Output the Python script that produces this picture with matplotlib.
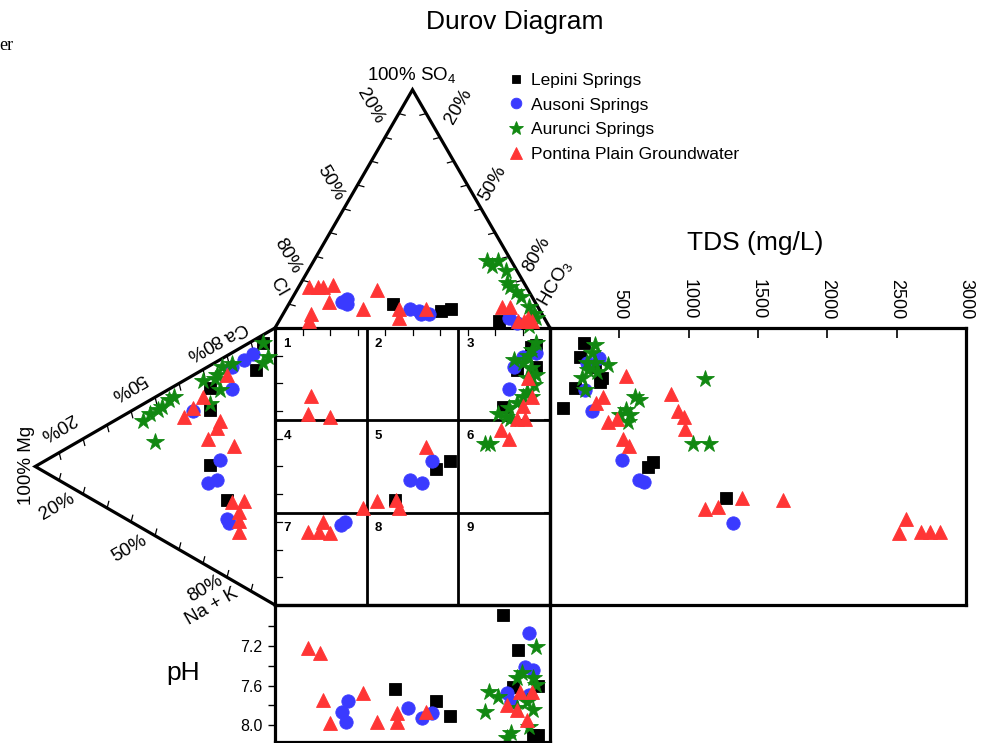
import matplotlib
matplotlib.use("Agg")
import matplotlib.pyplot as plt

plt.rcParams['font.family'] = ['Liberation Sans', 'DejaVu Sans']
plt.rcParams['mathtext.fontset'] = 'custom'
plt.rcParams['mathtext.rm'] = 'Liberation Sans'
plt.rcParams['mathtext.it'] = 'Liberation Sans:italic'
plt.rcParams['mathtext.bf'] = 'Liberation Sans:bold'

# ---------------- data ----------------
series = ["Lepini Springs", "Ausoni Springs", "Aurunci Springs", "Pontina Plain Groundwater"]
colors = ["#000000", "#3a3aff", "#118811", "#ff3535"]
markers = ["s", "o", "*", "^"]
msizes = [8.0, 9.6, 13.0, 10.6]

# anion triangle (SO4 %, HCO3 %; Cl is the rest)
lep_so4 = [10, 7, 8, 3]
lep_hco3 = [38, 57, 60, 80]
aus_so4 = [11, 12, 10, 8, 7, 6, 6, 4, 2]
aus_hco3 = [19, 20, 21, 45, 49, 50, 53, 83, 87]
aur_so4 = [28, 28, 26, 24, 19, 17, 15, 13, 9, 6, 4, 1]
aur_hco3 = [63, 67, 66, 72, 75, 77, 80, 83, 88, 91, 93, 92]
pon_so4 = [17, 17, 17, 18, 11, 6, 3, 8, 16, 8, 4, 8, 9, 9, 3, 3, 4, 3]
pon_hco3 = [4, 7, 9, 12, 14, 10, 11, 28, 29, 41, 43, 51, 78, 81, 87, 89, 90, 92]

# cation triangle (Ca %, Mg %; Na+K is the rest)
lep_ca = [92, 81, 65, 57, 37, 28]
lep_mg = [5, 8, 27, 27, 27, 20]
aus_ca = [86, 82, 77, 69, 53, 41, 30, 33, 20, 21]
aus_mg = [9, 13, 18, 18, 34, 23, 28, 24, 19, 20]
aur_ca = [92, 88, 85, 78, 75, 71, 69, 66, 66, 59, 54, 52, 48, 46, 43, 39, 34]
aur_mg = [5, 3, 5, 18, 22, 24, 25, 30, 23, 27, 42, 44, 47, 49, 52, 55, 50]
pon_ca = [73, 60, 54, 49, 55, 52, 46, 49, 28, 31, 26, 23, 19]
pon_mg = [20, 30, 34, 38, 23, 24, 28, 17, 18, 13, 15, 15, 15]

# central square (anion axis %, cation axis %)
lep_sx = [43.5, 58.5, 63.5, 95, 88, 95, 93, 83]
lep_sy = [38, 49, 52, 94, 85, 86, 93, 71.5]
aus_sx = [57, 49, 53.5, 25.5, 24, 85, 87, 90, 95]
aus_sy = [52, 45, 44, 30, 29, 78, 86, 89.5, 91]
aur_sx = [95, 93.5, 92, 87, 90, 93, 95, 91.5, 94, 91.5, 90, 93, 88, 85, 81, 84, 85.5, 78, 76.5]
aur_sy = [94.5, 92, 90, 88.5, 87.5, 85.5, 83, 82, 79.5, 77, 75, 75, 73, 71, 69, 68, 67, 58, 58]
pon_sx = [13, 12, 20, 32, 37, 44, 45, 55, 17.5, 12, 16, 20, 92, 93.5, 90, 88, 91, 82, 85]
pon_sy = [75.5, 69, 68, 35, 37.5, 38, 35, 57, 30, 26.5, 26.5, 26, 82, 75, 72, 67, 67, 63, 60]

# TDS panel (TDS mg/L, cation axis %)
lep_tds = [245, 215, 180, 95, 360, 375, 710, 745, 1270, 325]
lep_ty = [94.5, 89.5, 78.5, 71, 80.5, 82, 50, 51.5, 38.5, 86]
aus_tds = [350, 255, 305, 520, 640, 680, 1320, 270]
aus_ty = [89, 77.5, 70, 52.5, 45, 44.5, 29.5, 87.5]
aur_tds = [325, 305, 270, 325, 420, 275, 230, 340, 255, 1115, 615, 640, 545, 580, 505, 560, 1030, 1150]
aur_ty = [94, 91, 87.5, 87.5, 86.5, 85, 82, 84, 77.5, 81.5, 75, 74, 70.5, 68.5, 68.5, 66, 58, 58]
pon_tds = [545, 385, 335, 415, 485, 530, 570, 875, 920, 965, 970, 1115, 1210, 1385, 1680, 2565, 2515, 2675, 2740, 2810]
pon_ty = [82.5, 75, 73, 66, 67, 60, 57.5, 76, 70, 68, 63.5, 34.5, 35.5, 38.5, 38, 31, 26, 26.5, 26.5, 26.5]

# pH panel (anion axis %, pH)
lep_px = [83, 88.5, 43.5, 58.5, 63.5, 86.5, 95.5, 94, 95.5]
lep_ph = [6.89, 7.24, 7.64, 7.76, 7.91, 7.62, 7.61, 8.1, 8.1]
aus_px = [26.5, 24.5, 26, 48.5, 53.5, 57, 92.5, 91, 94, 84.5, 92.5, 86]
aus_ph = [7.76, 7.87, 7.97, 7.83, 7.93, 7.88, 7.07, 7.41, 7.44, 7.68, 7.7, 7.77]
aur_px = [95, 90, 94, 88, 78, 81, 76.5, 94, 91.5, 86, 84.5, 92.5, 95, 88]
aur_ph = [7.21, 7.47, 7.52, 7.52, 7.67, 7.72, 7.87, 7.85, 7.77, 8.08, 8.13, 8.02, 7.59, 7.83]
pon_px = [12, 16.5, 17.5, 20, 32, 37, 44.5, 44.5, 55, 84.5, 88, 89, 93.5, 91.5]
pon_ph = [7.22, 7.27, 7.75, 7.98, 7.68, 7.97, 7.88, 7.97, 7.87, 7.8, 7.85, 7.67, 7.67, 7.95]

tds_ticks = [500, 1000, 1500, 2000, 2500, 3000]
ph_ticks = [7.0, 7.2, 7.4, 7.6, 7.8, 8.0]
ph_labels = ["", "7.2", "", "7.6", "", "8.0"]

anion = [(lep_so4, lep_hco3), (aus_so4, aus_hco3), (aur_so4, aur_hco3), (pon_so4, pon_hco3)]
cation = [(lep_ca, lep_mg), (aus_ca, aus_mg), (aur_ca, aur_mg), (pon_ca, pon_mg)]
square = [(lep_sx, lep_sy), (aus_sx, aus_sy), (aur_sx, aur_sy), (pon_sx, pon_sy)]
tdsd = [(lep_tds, lep_ty), (aus_tds, aus_ty), (aur_tds, aur_ty), (pon_tds, pon_ty)]
phd = [(lep_px, lep_ph), (aus_px, aus_ph), (aur_px, aur_ph), (pon_px, pon_ph)]

# ---------------- geometry ----------------
HT = 86.0   # height of the anion triangle (diagram units)
WL = 87.2   # width of the cation triangle
LW = 2.3


def anion_xy(so4, hco3):
    return [h + s / 2 for s, h in zip(so4, hco3)], [100 + s * HT / 100 for s in so4]


def cation_xy(ca, mg):
    return [-m * WL / 100 for m in mg], [c + m / 2 for c, m in zip(ca, mg)]


W, H = 987, 743
fig = plt.figure(figsize=(W / 100, H / 100), dpi=100)
ax = fig.add_axes([0, 0, 1, 1])
ax.set_xlim(-100, 258.9)
ax.set_ylim(-49.82, 218.4)
ax.axis('off')

k = dict(color='black', lw=LW, solid_capstyle='projecting', solid_joinstyle='miter')
# square + grid
ax.plot([0, 100, 100, 0, 0], [0, 0, 100, 100, 0], **k)
for v in (100 / 3, 200 / 3):
    ax.plot([v, v], [0, 100], color='black', lw=2.0)
    ax.plot([0, 100], [v, v], color='black', lw=2.0)
# triangles
ax.plot([0, 50, 100], [100, 100 + HT, 100], **k)
ax.plot([0, -WL, 0], [100, 50, 0], **k)

tk = dict(color='black', lw=0.9)
for i in range(1, 10):
    f = i / 10
    # square ticks
    ax.plot([i * 10, i * 10], [100, 97.3], **tk)
    ax.plot([0, 2.6], [i * 10, i * 10], **tk)
    # anion triangle ticks
    x, y = 50 * f, 100 + HT * f
    ax.plot([x, x + 2.3], [y, y - 0.6], **tk)
    x = 100 - 50 * f
    ax.plot([x, x - 2.3], [y, y - 0.6], **tk)
    # cation triangle ticks
    x = -WL * (1 - f)
    ax.plot([x, x + 0.6], [50 + 50 * f, 50 + 50 * f - 2.4], **tk)
    ax.plot([x, x + 0.6], [50 - 50 * f, 50 - 50 * f + 2.4], **tk)

# zone numbers
for r in range(3):
    for c in range(3):
        ax.text(c * 100 / 3 + 3.0, 100 - r * 100 / 3 - 3.5, str(r * 3 + c + 1),
                fontsize=9.5, fontweight='bold', ha='left', va='top')

handles = []
for i in range(4):
    st = dict(ls='none', marker=markers[i], ms=msizes[i], color=colors[i],
              mec=colors[i], mew=0.6)
    ax.plot(*anion_xy(*anion[i]), **st)
    ax.plot(*cation_xy(*cation[i]), **st)
    h, = ax.plot(*square[i], label=series[i], **st)
    handles.append(h)

# triangle labels
fs = 13.5
ax.text(49.8, 191.5, "100% SO$_4$", fontsize=13.5, ha='center', va='center')
for (x, y, s) in [(34.5, 180.1, "20%"), (20.0, 152.3, "50%"), (4.4, 126.0, "80%"), (1.3, 114.8, "Cl")]:
    ax.text(x, y, s, fontsize=fs, rotation=-60, ha='center', va='center')
for (x, y, s) in [(66.9, 180.1, "20%"), (79.3, 152.3, "50%"), (95.2, 126.7, "80%"), (101.8, 116.2, "HCO$_3$")]:
    ax.text(x, y, s, fontsize=fs, rotation=60, ha='center', va='center')
for (x, y, s) in [(-14.9, 98.6, "Ca"), (-26.3, 93.3, "80%"), (-53.5, 79.1, "50%"), (-79.3, 64.6, "20%")]:
    ax.text(x, y, s, fontsize=fs, rotation=210, ha='center', va='center')
ax.text(-90.2, 50.2, "100% Mg", fontsize=fs, rotation=90, ha='center', va='center')
for (x, y, s) in [(-79.3, 35.4, "20%"), (-53.1, 20.2, "50%"), (-25.5, 5.8, "80%"), (-22.9, -0.6, "Na + K")]:
    ax.text(x, y, s, fontsize=fs, rotation=30, ha='center', va='center')

ax.text(87.3, 210.5, "Durov Diagram", fontsize=19, ha='center', va='center')
ax.text(174.5, 130.7, "TDS (mg/L)", fontsize=19, ha='center', va='center')
ax.text(-33.5, -24.5, "pH", fontsize=19, ha='center', va='center')
ax.text(-100.4, 202.0, "er", fontsize=13, family='Liberation Serif', ha='left', va='center')

ax.legend(handles=handles, loc='upper left', bbox_to_anchor=(509 / W, 1 - 72.5 / H),
          bbox_transform=fig.transFigure, frameon=False, fontsize=12.5,
          handlelength=0.8, handletextpad=0.45, labelspacing=0.56,
          borderpad=0, borderaxespad=0, markerscale=0.8)

# ---------------- TDS panel ----------------
axt = fig.add_axes([550 / W, (H - 605) / H, (966 - 550) / W, 277 / H])
axt.set_facecolor('none')
axt.set_xlim(0, 3000)
axt.set_ylim(0, 100)
for sp in axt.spines.values():
    sp.set_linewidth(LW)
axt.xaxis.tick_top()
axt.set_xticks(tds_ticks)
axt.set_xticklabels([str(t) for t in tds_ticks], rotation=270, fontsize=13)
axt.tick_params(axis='x', direction='in', length=7, width=1.2, pad=6)
axt.set_yticks([100 / 3, 200 / 3])
axt.set_yticklabels([])
axt.tick_params(axis='y', direction='out', length=4, width=1.5)
for i in range(4):
    axt.plot(*tdsd[i], ls='none', marker=markers[i], ms=msizes[i], color=colors[i],
             mec=colors[i], mew=0.6)

# ---------------- pH panel ----------------
axp = fig.add_axes([275 / W, (H - 742) / H, 275 / W, (742 - 605) / H])
axp.set_facecolor('none')
axp.set_xlim(0, 100)
axp.set_ylim(8.172, 6.785)
for sp in axp.spines.values():
    sp.set_linewidth(LW)
axp.set_xticks([])
axp.set_yticks(ph_ticks)
axp.set_yticklabels(ph_labels, fontsize=11.5)
axp.tick_params(axis='y', direction='out', length=5, width=1.0, pad=4)
for i in range(4):
    axp.plot(*phd[i], ls='none', marker=markers[i], ms=msizes[i], color=colors[i],
             mec=colors[i], mew=0.6, clip_on=True)

fig.savefig("out.png", dpi=100)
